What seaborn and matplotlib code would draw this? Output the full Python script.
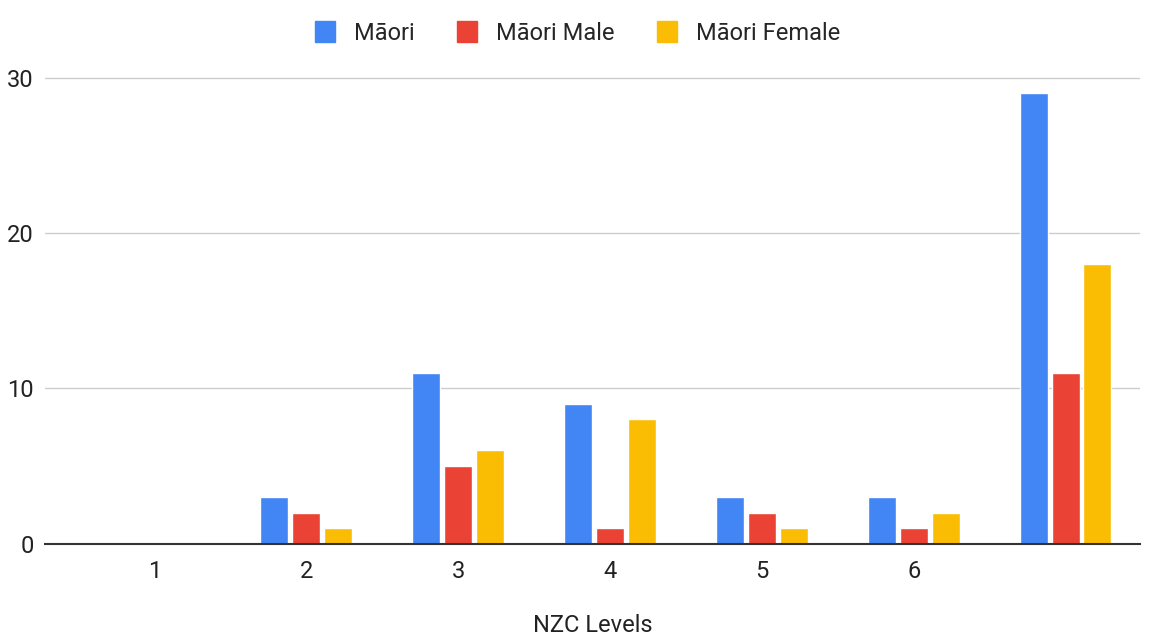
import pandas as pd
import seaborn as sns
import matplotlib.pyplot as plt

# Dados
niveis = ["1", "2", "3", "4", "5", "6", ""]
maori = [0, 3, 11, 9, 3, 3, 29]
maori_male = [0, 2, 5, 1, 2, 1, 11]
maori_female = [0, 1, 6, 8, 1, 2, 18]
series = ["Māori", "Māori Male", "Māori Female"]
cores = ["#4285F4", "#EA4335", "#FBBC04"]

posicoes = [str(i) for i in range(len(niveis))]
df = pd.DataFrame({
    "pos": posicoes * 3,
    "valor": maori + maori_male + maori_female,
    "serie": [series[0]] * 7 + [series[1]] * 7 + [series[2]] * 7,
})

sns.set_style("white")
plt.rcParams["font.family"] = ["Roboto", "DejaVu Sans"]

fig = plt.figure(figsize=(11.55, 6.38), dpi=100)
ax = fig.add_axes([0.039, 0.148, 0.948, 0.742])

sns.barplot(data=df, x="pos", y="valor", hue="serie", order=posicoes,
            hue_order=series, palette=cores, width=0.63, gap=0.12,
            saturation=1, ax=ax, legend=False)

ax.set_xticks(range(len(niveis)))
ax.set_xticklabels(niveis, fontsize=17, color="#222222")
ax.set_xlim(-0.72, 6.49)
ax.set_ylim(0, 30.5)
ax.set_yticks([0, 10, 20, 30])
ax.set_yticklabels(["0", "10", "20", "30"], fontsize=17, color="#222222")
ax.tick_params(axis="x", length=0, pad=12)
ax.tick_params(axis="y", length=0, pad=8)
ax.yaxis.grid(True, color="#cccccc", linewidth=1)
ax.set_axisbelow(True)
for lado in ["top", "right", "left"]:
    ax.spines[lado].set_visible(False)
ax.spines["bottom"].set_color("#333333")
ax.spines["bottom"].set_linewidth(1.5)
ax.set_xlabel("NZC Levels", fontsize=17, color="#222222", labelpad=22)
ax.set_ylabel("")

handles = [plt.Rectangle((0, 0), 1, 1, color=c) for c in cores]
fig.legend(handles, series, loc="upper center", bbox_to_anchor=(0.5, 1.0),
           ncol=3, frameon=False, fontsize=17, handlelength=0.85,
           handleheight=0.95, columnspacing=1.8, handletextpad=0.8)

fig.savefig("out.png", dpi=100)
